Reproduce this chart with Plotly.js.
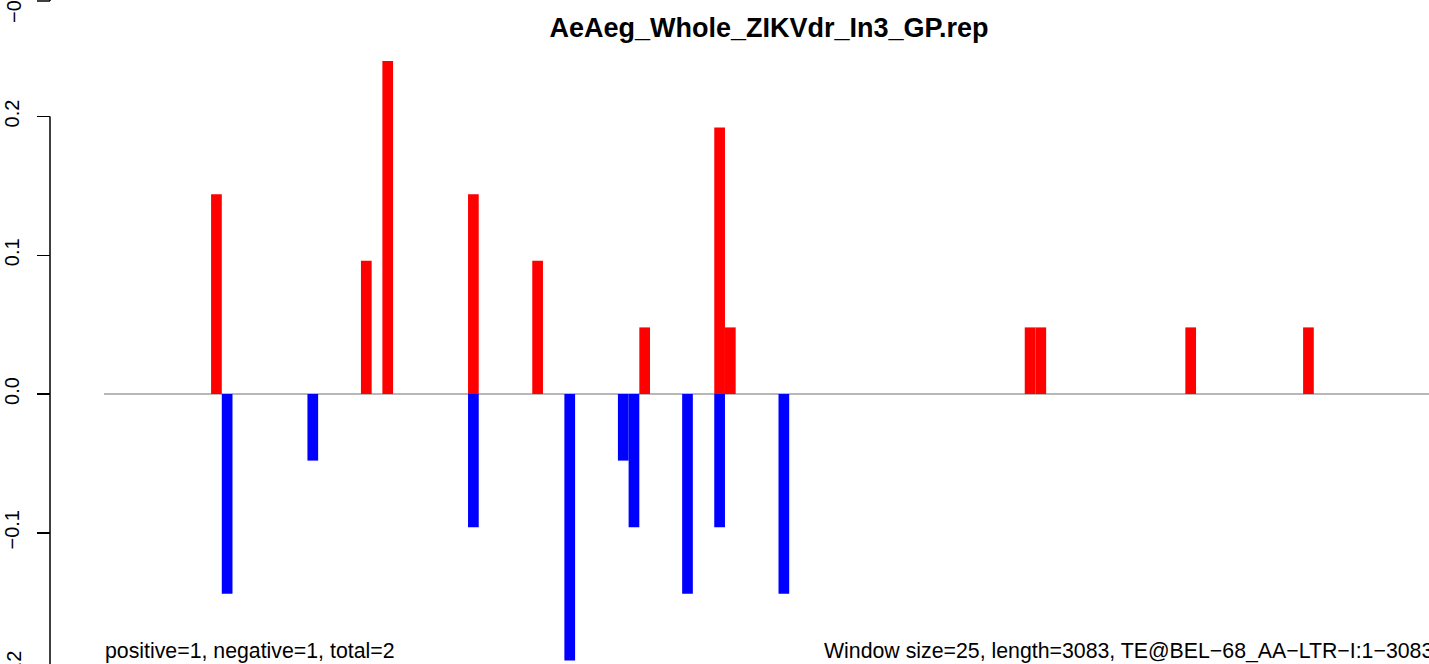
<!DOCTYPE html>
<html>
<head>
<meta charset="utf-8">
<script src="https://cdn.plot.ly/plotly-3.0.1.min.js"></script>
<style>html,body{margin:0;padding:0;background:#fff;}#chart{width:1429px;height:664px;}</style>
</head>
<body>
<div id="chart"></div>
<script>
// Window starts (bp) and values
const posStarts = [250, 600, 650, 850, 1000, 1250, 1425, 1450, 2150, 2175, 2525, 2800];
const posValues = [0.144, 0.096, 0.24, 0.144, 0.096, 0.048, 0.192, 0.048, 0.048, 0.048, 0.048, 0.048];
const negStarts = [275, 475, 850, 1075, 1200, 1225, 1350, 1425, 1575];
const negValues = [-0.144, -0.048, -0.096, -0.192, -0.048, -0.096, -0.144, -0.096, -0.144];
const windowSize = 25;
const seqLength = 3083;
const yTicks = [-0.2, -0.1, 0, 0.1, 0.2];
const titleText = "AeAeg_Whole_ZIKVdr_In3_GP.rep";
const leftNote = "positive=1, negative=1, total=2";
const rightNote = "Window size=25, length=3083, TE@BEL\u221268_AA\u2212LTR\u2212I:1\u22123083";
const edgeLabel = "\u22120.2";

const W = 1429, H = 664;
const FONT = "Liberation Sans, Arial, Helvetica, sans-serif";

const traces = [
  {type: 'bar', x: posStarts, y: posValues, width: posStarts.map(() => windowSize), offset: 0,
   marker: {color: '#ff0000', line: {width: 0}}, hoverinfo: 'skip'},
  {type: 'bar', x: negStarts, y: negValues, width: negStarts.map(() => windowSize), offset: 0,
   marker: {color: '#0000ff', line: {width: 0}}, hoverinfo: 'skip'}
];

const layout = {
  width: W, height: H,
  margin: {l: 0, r: 0, t: 0, b: 0, pad: 0},
  paper_bgcolor: '#ffffff', plot_bgcolor: '#ffffff',
  showlegend: false,
  barmode: 'overlay',
  font: {family: FONT, color: '#000000', size: 21},
  title: {text: titleText, x: 769 / W, xanchor: 'center', xref: 'paper',
          y: 1 - 28 / H, yanchor: 'middle', yref: 'container',
          font: {family: FONT, size: 27, weight: 'bold', color: '#000000'}},
  xaxis: {range: [-242.9, 3094], visible: false, showgrid: false, zeroline: false, fixedrange: true},
  yaxis: {range: [-0.19459, 0.28396], showgrid: false, zeroline: false, showline: false,
          anchor: 'free', position: 50 / W,
          tickmode: 'array', tickvals: yTicks, tickformat: '.1f',
          ticks: 'outside', ticklen: 13, tickwidth: 1.5, tickcolor: '#000000',
          tickangle: -90, ticklabelstandoff: 10,
          tickfont: {family: FONT, size: 20, color: '#000000'}},
  shapes: [
    {type: 'line', xref: 'x', yref: 'y', x0: 0, x1: 3100, y0: 0, y1: 0,
     line: {color: '#a0a0a0', width: 1.5}, layer: 'below'},
    {type: 'line', xref: 'paper', yref: 'y', x0: 50 / W, x1: 50 / W, y0: 0.2, y1: -0.25,
     line: {color: '#000000', width: 1.5}},
    {type: 'line', xref: 'paper', yref: 'paper', x0: 37 / W, x1: 50 / W, y0: 1 - 1 / H, y1: 1 - 1 / H,
     line: {color: '#000000', width: 1.5}},
    {type: 'line', xref: 'paper', yref: 'paper', x0: 50 / W, x1: 50 / W, y0: 1 - 1 / H, y1: 1.01,
     line: {color: '#000000', width: 1.5}}
  ],
  annotations: [
    {text: leftNote, xref: 'paper', yref: 'paper', x: 103 / W, xanchor: 'left',
     y: 1 - 651 / H, yanchor: 'middle', showarrow: false,
     font: {family: FONT, size: 21.3, color: '#000000'}},
    {text: rightNote, xref: 'paper', yref: 'paper', x: 822 / W, xanchor: 'left',
     y: 1 - 651 / H, yanchor: 'middle', showarrow: false,
     font: {family: FONT, size: 21.3, color: '#000000'}},
    {text: edgeLabel, xref: 'paper', yref: 'paper', x: 14 / W, xanchor: 'center',
     y: 1 - 4 / H, yanchor: 'middle', textangle: -90, showarrow: false,
     font: {family: FONT, size: 20, color: '#000000'}},
    {text: edgeLabel, xref: 'paper', yref: 'paper', x: 14 / W, xanchor: 'center',
     y: 1 - 671 / H, yanchor: 'middle', textangle: -90, showarrow: false,
     font: {family: FONT, size: 20, color: '#000000'}}
  ]
};

Plotly.newPlot('chart', traces, layout, {displayModeBar: false, staticPlot: true});
</script>
</body>
</html>
